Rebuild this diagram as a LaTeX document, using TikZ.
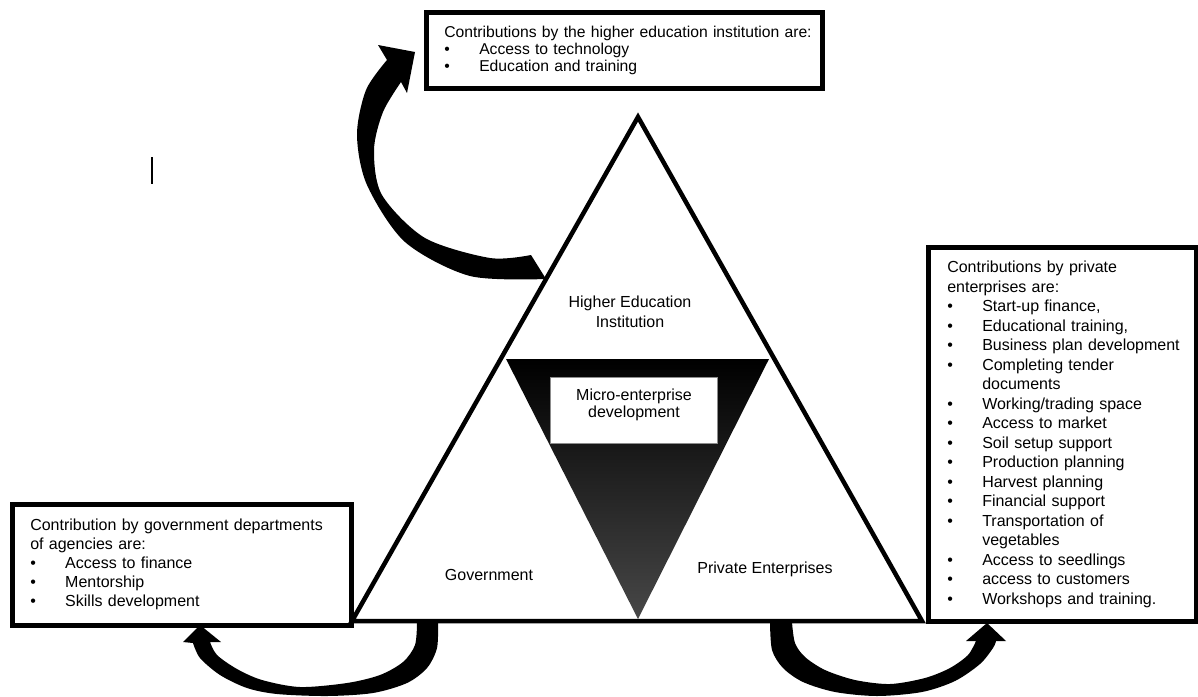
\documentclass[tikz,border=0pt]{standalone}
\usepackage{fontspec}
\setmainfont{Liberation Sans}
\usepackage{tikz}
\usepackage{xcolor}
\hfuzz=60pt
\hbadness=10000

\tikzset{
  infobox/.style={draw, line width=4.5pt, anchor=north west, align=left,
    inner xsep=19pt, inner ysep=0pt},
  tilabel/.style={align=center, inner sep=0pt},
  fsixteen/.style={font=\fontsize{16}{19.5}\selectfont},
}
\newcommand{\bul}[1]{\mbox{\makebox[35pt][l]{\textbullet}#1}}
\newcommand{\headline}[1]{\mbox{#1}}

\begin{document}
\begin{tikzpicture}[x=1pt, y=-1pt]
  \useasboundingbox (0,0) rectangle (1198,696);

  \coordinate (apex)  at (638,117);
  \coordinate (baseL) at (352,621);
  \coordinate (baseR) at (922,621);
  \coordinate (inL)   at (506,359);
  \coordinate (inR)   at (769,359);
  \coordinate (inB)   at (638,619);

  % curved block arrows
  \fill plot[smooth] coordinates {(546,279) (470,276) (405,242) (367,185) (357,135) (366,90) (387,60)}
    -- (378,45) -- (415,52) -- (407,93)
    -- plot[smooth] coordinates {(401,82) (383,112) (374,150) (382,195) (425,238) (490,258) (531,255)} -- cycle;
  \fill plot[smooth] coordinates {(438,622) (437,648) (427,668) (407,683) (373,693) (327,696) (277,694) (247,688) (220,675) (200,658) (193,643)}
    -- (183,642) -- (200,625) -- (221,642)
    -- plot[smooth] coordinates {(210,642) (217,655) (237,669) (262,680) (300,687) (347,683) (380,675) (403,662) (415,645) (417,622)} -- cycle;
  \fill plot[smooth] coordinates {(770,622) (772,650) (783,668) (803,682) (835,692) (877,696) (922,692) (955,681) (980,664) (993,648) (996,641)}
    -- (1006,641) -- (987,623) -- (966,641)
    -- plot[smooth] coordinates {(976,641) (968,655) (950,668) (925,678) (890,684) (855,680) (825,670) (805,657) (795,643) (792,622)} -- cycle;

  % triangles
  \shade[top color=black, middle color=black, bottom color=black!72] (inL) -- (inR) -- (inB) -- cycle;
  \draw[line width=4.5pt, line join=miter] (apex) -- (baseL) -- (baseR) -- cycle;

  \node[draw=black!45, line width=0.8pt, fill=white, minimum width=167pt, minimum height=66pt] (microbox) at (633.5,410) {};
  \node[tilabel, font=\fontsize{16}{17}\selectfont] (micro) at (634,404.5) {Micro-enterprise\\development};

  \node[tilabel, font=\fontsize{16}{20}\selectfont] (hei) at (630,312) {Higher Education\\Institution};
  \node[tilabel, fsixteen] (gov) at (489,575) {Government};
  \node[tilabel, fsixteen] (priv) at (765,569) {Private Enterprises};

  % contribution boxes
  \node[infobox, font=\fontsize{15.7}{17}\selectfont, inner xsep=18pt, text width=360pt, minimum height=76pt] (heibox) at (424,10)
    {\headline{Contributions by the higher education institution are:}\\
     \bul{Access to technology}\\
     \bul{Education and training}};

  \node[infobox, font=\fontsize{16}{19}\selectfont, inner xsep=18pt, text width=303pt, minimum height=121pt] (govbox) at (10,502)
    {\headline{Contribution by government departments}\\
     \headline{of agencies are:}\\
     \bul{Access to finance}\\
     \bul{Mentorship}\\
     \bul{Skills development}};

  \node[infobox, fsixteen, text width=230pt, minimum height=374pt] (privbox) at (926,245)
    {\headline{Contributions by private}\\
     \headline{enterprises are:}\\
     \bul{Start-up finance,}\\
     \bul{Educational training,}\\
     \bul{Business plan development}\\
     \bul{Completing tender}\\
     \hspace*{35pt}documents\\
     \bul{Working/trading space}\\
     \bul{Access to market}\\
     \bul{Soil setup support}\\
     \bul{Production planning}\\
     \bul{Harvest planning}\\
     \bul{Financial support}\\
     \bul{Transportation of}\\
     \hspace*{35pt}vegetables\\
     \bul{Access to seedlings}\\
     \bul{access to customers}\\
     \bul{Workshops and training.}};

  \draw[line width=1.3pt] (152,157) -- (152,184);
\end{tikzpicture}
\end{document}
